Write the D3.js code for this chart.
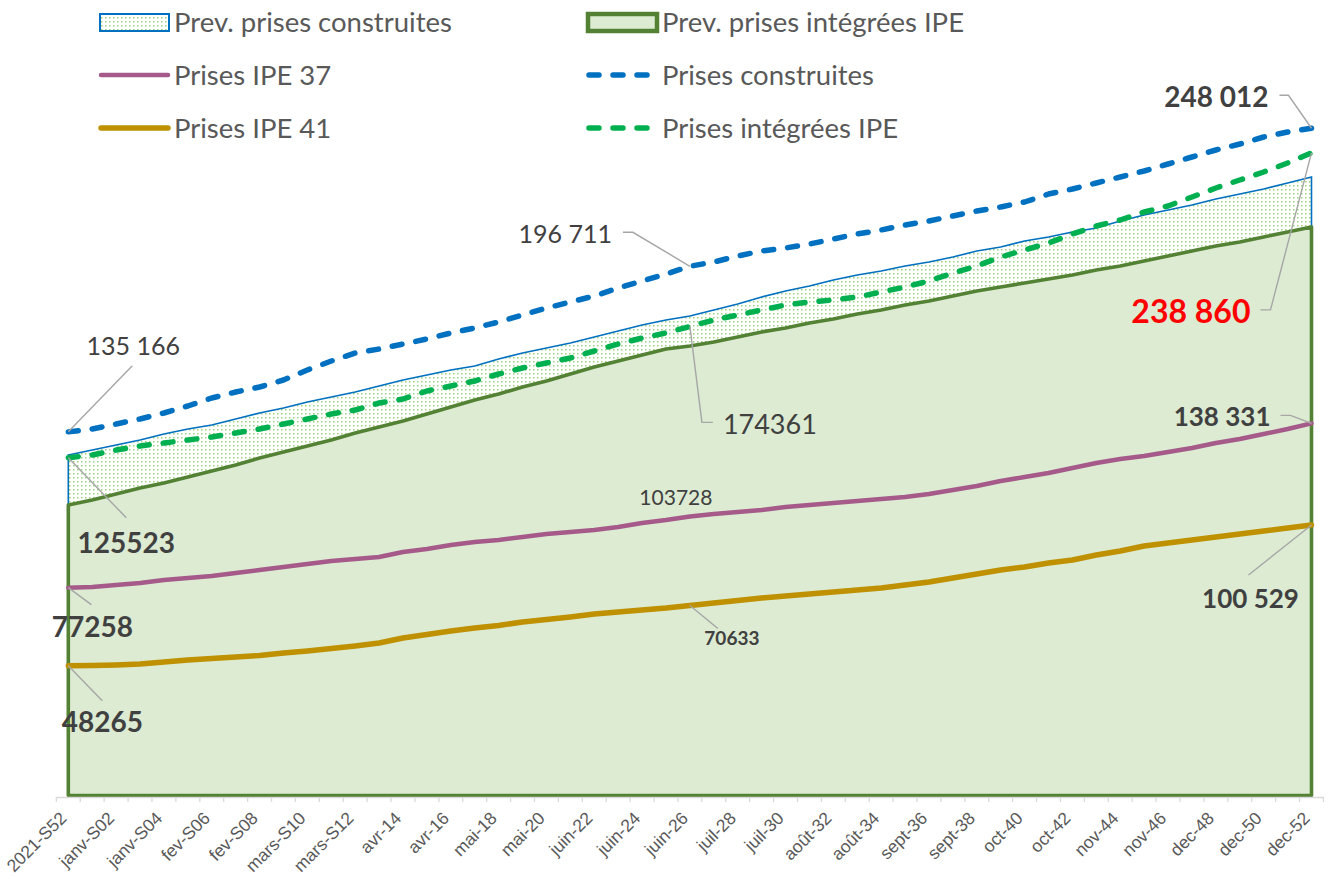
<!DOCTYPE html>
<html lang="fr">
<head>
  <meta charset="UTF-8">
  <title>Prises construites et intégrées IPE</title>
  <script src="https://d3js.org/d3.v7.min.js"></script>
</head>

<style>
  body {
    margin: 0;
    background: #fff;
  }

  svg {
    display: block;
    font-family: Lato, "Open Sans", sans-serif;
  }

  .tick text {
    font-size: 17.5px;
    fill: #595959;
  }

  .legend text {
    font-size: 27.5px;
    fill: #595959;
  }

  .leader {
    fill: none;
    stroke: #a6a6a6;
    stroke-width: 1.4px;
  }
</style>

<body>
<div id="chart"></div>

<script>
  // semaines (une sur deux est affichée sur l'axe)
  var categories = ["2021-S52", "janv-S01", "janv-S02", "janv-S03", "janv-S04", "fev-S05", "fev-S06", "fev-S07",
    "fev-S08", "mars-S09", "mars-S10", "mars-S11", "mars-S12", "mars-S13", "avr-14", "avr-15", "avr-16", "avr-17",
    "mai-18", "mai-19", "mai-20", "mai-21", "juin-22", "juin-23", "juin-24", "juin-25", "juin-26", "juil-27",
    "juil-28", "juil-29", "juil-30", "août-31", "août-32", "août-33", "août-34", "août-35", "sept-36", "sept-37",
    "sept-38", "sept-39", "oct-40", "oct-41", "oct-42", "oct-43", "nov-44", "nov-45", "nov-46", "nov-47",
    "dec-48", "dec-49", "dec-50", "dec-51", "dec-52"];

  var prevConstruites = [126560, 128420, 130280, 132140, 134370, 136230, 137720, 139950, 142180, 144030,
    146260, 148120, 149980, 152210, 154440, 156300, 158160, 159650, 162250, 164480,
    166340, 168190, 170420, 172660, 174890, 176740, 178230, 180460, 182690, 185290,
    187520, 189380, 191610, 193470, 194960, 196820, 198300, 200160, 202390, 203880,
    206110, 207600, 209450, 210940, 213540, 215770, 217630, 219490, 221720, 223580,
    225440, 227670, 229900];

  var prevIntegrees = [107980, 109840, 112070, 114300, 116160, 118390, 120620, 122850, 125450, 127680,
    129910, 132140, 134740, 136970, 139200, 141800, 144410, 147010, 149240, 151840,
    154070, 156670, 159270, 161500, 163730, 165960, 167080, 168570, 170420, 172280,
    173770, 175630, 177120, 178970, 180460, 182320, 183810, 185660, 187520, 189010,
    190500, 191980, 193470, 195330, 196820, 198670, 200530, 202390, 204250, 205740,
    207600, 209450, 211320];

  var prisesIpe37 = [77258, 77500, 78240, 78990, 80100, 80850, 81590, 82700, 83820, 84930,
    86050, 87160, 87910, 88650, 90510, 91620, 93110, 94230, 94970, 96080,
    97200, 97940, 98690, 99800, 101290, 102400, 103728, 104630, 105380, 106120,
    107240, 107980, 108720, 109470, 110210, 110950, 112070, 113560, 115040, 116900,
    118390, 119870, 121730, 123590, 125080, 126190, 127680, 129170, 131020, 132510,
    134370, 136230, 138331];

  var prisesConstruites = [135166, 136230, 138090, 139950, 142180, 144780, 147750, 149980, 151840, 154440,
    158160, 161500, 164480, 165960, 167820, 169680, 171910, 173770, 176000, 178600,
    181200, 183430, 185660, 188640, 191240, 193840, 196711, 198300, 200530, 202390,
    203510, 204990, 206850, 208710, 210200, 212060, 213540, 215400, 217260, 218750,
    220600, 223580, 225440, 227670, 229900, 232130, 234730, 237330, 239930, 242160,
    244760, 246620, 248012];

  var prisesIpe41 = [48265, 48300, 48510, 48880, 49620, 50370, 50920, 51480, 52040, 52970,
    53710, 54640, 55570, 56680, 58540, 59840, 61150, 62260, 63190, 64490,
    65420, 66350, 67460, 68200, 68950, 69690, 70633, 71550, 72480, 73410,
    74150, 74900, 75640, 76380, 77130, 78240, 79360, 80850, 82340, 83820,
    84930, 86420, 87540, 89390, 90880, 92740, 93850, 94970, 96080, 97200,
    98320, 99430, 100529];

  var prisesIntegrees = [125523, 126560, 128420, 129910, 131020, 132140, 133250, 134740, 136230, 138090,
    139950, 141800, 143290, 145890, 147380, 150350, 152210, 154070, 156670, 158900,
    160760, 162620, 165220, 167820, 170050, 171910, 174361, 176740, 178600, 180460,
    182320, 183430, 184180, 185290, 187150, 189010, 191240, 194210, 196820, 200160,
    202760, 205360, 208710, 211680, 213910, 216890, 219120, 222460, 225810, 228780,
    231760, 235100, 238860];

  var width = 1329, height = 882;

  var svg = d3.select('#chart').append('svg')
    .attr('width', width)
    .attr('height', height);

  // motif pointillé de la zone "Prev. prises construites"
  var pattern = svg.append('defs').append('pattern')
    .attr('id', 'dots')
    .attr('width', 4)
    .attr('height', 4)
    .attr('patternUnits', 'userSpaceOnUse');
  pattern.append('rect').attr('width', 4).attr('height', 4).attr('fill', '#fff');
  pattern.append('rect').attr('x', 1).attr('y', 1).attr('width', 1.5).attr('height', 1.5).attr('fill', '#9bd27a');

  var x = d3.scaleBand()
    .domain(categories)
    .range([56.35, 1323.45])
    .padding(0);

  function xc(c) { return x(c) + x.bandwidth() / 2; }

  var y = d3.scaleLinear()
    .domain([0, 250000])
    .range([795.5, 795.5 - 250000 / 371.7]);

  function areaOf(values) {
    return d3.area()
      .x(function (d, i) { return xc(categories[i]); })
      .y0(y(0))
      .y1(function (d) { return y(d); })(values);
  }

  function lineOf(values) {
    return d3.line()
      .x(function (d, i) { return xc(categories[i]); })
      .y(function (d) { return y(d); })(values);
  }

  /** zones */
  svg.append('path')
    .attr('d', areaOf(prevConstruites))
    .attr('fill', 'url(#dots)')
    .attr('stroke', '#0070c0')
    .attr('stroke-width', 1.6);

  svg.append('path')
    .attr('d', areaOf(prevIntegrees))
    .attr('fill', '#dcebd2')
    .attr('stroke', '#548235')
    .attr('stroke-width', 3.6)
    .attr('stroke-linejoin', 'round');

  /** axe horizontal */
  var axisG = svg.append('g')
    .attr('transform', 'translate(0,' + (y(0) + 1.5) + ')')
    .call(d3.axisBottom(x)
      .tickValues(categories.filter(function (d, i) { return i % 2 === 0; }))
      .tickSize(0)
      .tickSizeOuter(0));

  axisG.select('.domain').attr('stroke', '#d9d9d9').attr('stroke-width', 1.3);

  axisG.selectAll('.tick text')
    .attr('x', 0)
    .attr('y', 0)
    .attr('dy', '0.35em')
    .attr('text-anchor', 'end')
    .attr('transform', 'translate(-5,18) rotate(-45)');

  axisG.selectAll('line.boundary')
    .data(d3.range(categories.length + 1))
    .enter()
    .append('line')
    .attr('class', 'boundary')
    .attr('x1', function (i) { return x.range()[0] + i * x.step(); })
    .attr('x2', function (i) { return x.range()[0] + i * x.step(); })
    .attr('y1', 0)
    .attr('y2', 5)
    .attr('stroke', '#d9d9d9')
    .attr('stroke-width', 1.3);

  /** courbes */
  var lines = [
    { values: prisesIpe37, color: '#a55a8a', width: 4.5, dash: null },
    { values: prisesIpe41, color: '#bf9000', width: 5.5, dash: null },
    { values: prisesConstruites, color: '#0070c0', width: 5.5, dash: '10,14' },
    { values: prisesIntegrees, color: '#00b050', width: 5.5, dash: '10,14' }
  ];

  svg.selectAll('path.serie')
    .data(lines)
    .enter()
    .append('path')
    .attr('class', 'serie')
    .attr('d', function (s) { return lineOf(s.values); })
    .attr('fill', 'none')
    .attr('stroke', function (s) { return s.color; })
    .attr('stroke-width', function (s) { return s.width; })
    .attr('stroke-dasharray', function (s) { return s.dash; })
    .attr('stroke-linecap', 'round')
    .attr('stroke-linejoin', 'round');

  /** étiquettes de données, avec lignes de rappel */
  var labels = [
    { s: prisesConstruites, i: 0, text: '135 166', dx: 65, dy: -77, anchor: 'middle', size: 25, bold: false, leader: [[64, -66]] },
    { s: prisesIntegrees, i: 0, text: '125523', dx: 58, dy: 95, anchor: 'middle', size: 28, bold: true, leader: [[58, 60]] },
    { s: prisesIpe37, i: 0, text: '77258', dx: 24, dy: 49, anchor: 'middle', size: 28, bold: true, leader: [[23, 17]] },
    { s: prisesIpe41, i: 0, text: '48265', dx: 34, dy: 66, anchor: 'middle', size: 28, bold: true, leader: [[34, 35]] },
    { s: prisesConstruites, i: 26, text: '196 711', dx: -78, dy: -23, anchor: 'end', size: 25, bold: false, leader: [[-57, -34], [-67, -34]] },
    { s: prisesIntegrees, i: 26, text: '174361', dx: 33, dy: 108, anchor: 'start', size: 27, bold: false, leader: [[12, 96], [23, 96]] },
    { s: prisesIpe37, i: 26, text: '103728', dx: -14, dy: -11, anchor: 'middle', size: 21, bold: false, leader: null },
    { s: prisesIpe41, i: 26, text: '70633', dx: 42, dy: 40, anchor: 'middle', size: 19, bold: true, leader: [[28, 23]] },
    { s: prisesConstruites, i: 52, text: '248 012', dx: -43, dy: -21, anchor: 'end', size: 28, bold: true, leader: [[-23, -33], [-32, -33]] },
    { s: prisesIntegrees, i: 52, text: '238 860', dx: -61, dy: 170, anchor: 'end', size: 32, bold: true, color: '#ff0000', leader: [[-41, 157], [-51, 157]] },
    { s: prisesIpe37, i: 52, text: '138 331', dx: -41, dy: 3, anchor: 'end', size: 26, bold: true, leader: [[-21, -8], [-31, -8]] },
    { s: prisesIpe41, i: 52, text: '100 529', dx: -61, dy: 83, anchor: 'middle', size: 26, bold: true, leader: [[-63, 50]] }
  ];

  labels.forEach(function (l) {
    var px = xc(categories[l.i]);
    var py = y(l.s[l.i]);
    if (l.leader) {
      var pts = [[px, py]].concat(l.leader.map(function (p) { return [px + p[0], py + p[1]]; }));
      svg.append('path')
        .attr('class', 'leader')
        .attr('d', d3.line()(pts));
    }
    svg.append('text')
      .attr('x', px + l.dx)
      .attr('y', py + l.dy)
      .attr('text-anchor', l.anchor)
      .attr('font-size', l.size)
      .attr('font-weight', l.bold ? 700 : 400)
      .attr('fill', l.color || '#404040')
      .text(l.text);
  });

  /** légende */
  var legend = svg.append('g').attr('class', 'legend');
  var rowsY = [22, 75, 128];
  var colX = [99, 587];
  var symW = 71;

  var items = [
    { name: 'Prev. prises construites', col: 0, row: 0, type: 'area', fill: 'url(#dots)', stroke: '#0070c0', sw: 2 },
    { name: 'Prev. prises intégrées IPE', col: 1, row: 0, type: 'area', fill: '#dcebd2', stroke: '#548235', sw: 4.5 },
    { name: 'Prises IPE 37', col: 0, row: 1, type: 'line', stroke: '#a55a8a', sw: 4.5 },
    { name: 'Prises construites', col: 1, row: 1, type: 'dash', stroke: '#0070c0', sw: 5.5 },
    { name: 'Prises IPE 41', col: 0, row: 2, type: 'line', stroke: '#bf9000', sw: 5.5 },
    { name: 'Prises intégrées IPE', col: 1, row: 2, type: 'dash', stroke: '#00b050', sw: 5.5 }
  ];

  items.forEach(function (it) {
    var lx = colX[it.col], ly = rowsY[it.row];
    if (it.type === 'area') {
      legend.append('rect')
        .attr('x', lx + 1).attr('y', ly - 8)
        .attr('width', symW - 2).attr('height', 17)
        .attr('fill', it.fill)
        .attr('stroke', it.stroke)
        .attr('stroke-width', it.sw);
    } else {
      legend.append('line')
        .attr('x1', lx + 2).attr('x2', lx + symW - 2)
        .attr('y1', ly).attr('y2', ly)
        .attr('stroke', it.stroke)
        .attr('stroke-width', it.sw)
        .attr('stroke-linecap', 'round')
        .attr('stroke-dasharray', it.type === 'dash' ? '10,14' : null);
    }
    legend.append('text')
      .attr('x', lx + symW + 4)
      .attr('y', ly)
      .attr('dy', '0.35em')
      .text(it.name);
  });
</script>
</body>
</html>
